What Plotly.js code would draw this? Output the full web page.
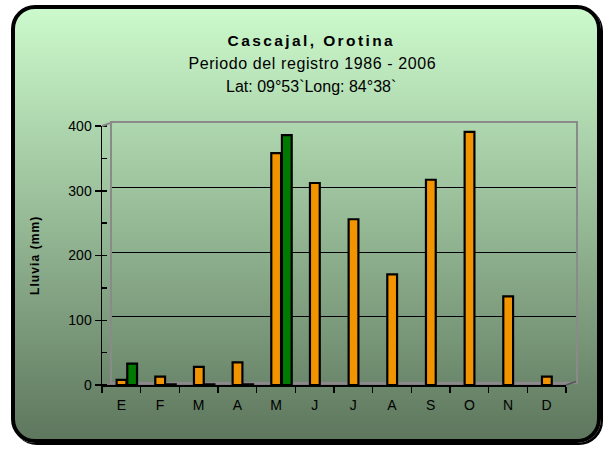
<!DOCTYPE html>
<html>
<head>
<meta charset="utf-8">
<script src="https://cdn.plot.ly/plotly-3.0.1.min.js"></script>
<style>
  html, body { margin: 0; padding: 0; background: #ffffff; }
  #frame {
    position: absolute; left: 11px; top: 5px; width: 590px; height: 438px;
    box-sizing: border-box; border: 4px solid #000; border-radius: 24px;
    background: linear-gradient(to bottom, #ccfacc 0%, #5e775e 100%);
    box-shadow: 2px 2px 0 #000;
  }
  #chart { position: absolute; left: 0; top: 0; width: 605px; height: 450px; }
  g.annotation[data-index="0"] text { letter-spacing: 2.4px; }
  g.annotation[data-index="1"] text { letter-spacing: 0.6px; }
  g.annotation[data-index="3"] text { letter-spacing: 1.1px; }
</style>
</head>
<body>
<div id="frame"></div>
<div id="chart"></div>
<script>
// ---- data ----
const months = ['E','F','M','A','M','J','J','A','S','O','N','D'];
const serieNaranja = [8, 13, 28, 35, 358, 312, 256, 171, 317, 391, 137, 13];
const serieVerde   = [33, 1, 1, 1, 386, null, null, null, null, null, null, null];
const yTicks = [0, 100, 200, 300, 400];

// ---- geometry helpers (pixels -> paper fractions) ----
const W = 605, H = 450;
const fx = p => p / W;
const fy = p => 1 - p / H;
const front = {x0: 102, x1: 566, yb: 385, yt: 126};
const depth = {dx: 10, dy: -3.5};
const back = {x0: front.x0 + depth.dx, x1: front.x1 + depth.dx, yb: front.yb + depth.dy, yt: front.yt + depth.dy};
const mid = {x0: front.x0 + 5.5, x1: front.x1 + 5.5};

const idx = months.map((_, i) => i);

const traces = [
  // back wall helper (draws wall gridlines)
  {type: 'scatter', x: [], y: [], xaxis: 'x', yaxis: 'y', hoverinfo: 'skip', showlegend: false},
  {type: 'bar', name: 'Serie 1', x: idx, y: serieNaranja, xaxis: 'x2', yaxis: 'y2',
   marker: {color: '#f29400', line: {color: '#000', width: 2.2}}, hoverinfo: 'y'},
  {type: 'bar', name: 'Serie 2', x: idx, y: serieVerde, xaxis: 'x2', yaxis: 'y2',
   marker: {color: '#007a00', line: {color: '#000', width: 2.2}}, hoverinfo: 'y'},
  // front x axis helper
  {type: 'scatter', x: [], y: [], xaxis: 'x3', yaxis: 'y2', hoverinfo: 'skip', showlegend: false}
];

const wallGray = '#8a8a8a';
const layout = {
  width: W, height: H,
  margin: {l: 0, r: 0, t: 0, b: 0},
  paper_bgcolor: 'rgba(0,0,0,0)',
  plot_bgcolor: 'rgba(0,0,0,0)',
  showlegend: false,
  barmode: 'group',
  bargap: 0.45,
  bargroupgap: 0.08,
  font: {family: 'Liberation Sans, Arial, sans-serif', color: '#000'},
  // back wall
  xaxis: {domain: [fx(back.x0), fx(back.x1)], anchor: 'y', range: [0, 1], showgrid: false, zeroline: false,
          showticklabels: false, ticks: '', showline: true, mirror: true, linecolor: wallGray, linewidth: 2, fixedrange: true},
  yaxis: {domain: [fy(back.yb), fy(back.yt)], anchor: 'x', range: [0, 400], tickvals: yTicks, showgrid: true,
          gridcolor: '#000', gridwidth: 1, zeroline: false, showticklabels: false, ticks: '',
          showline: true, mirror: true, linecolor: wallGray, linewidth: 2, fixedrange: true},
  // bars (mid depth)
  xaxis2: {domain: [fx(mid.x0), fx(mid.x1)], anchor: 'y2', range: [-0.5, 11.5], visible: false, fixedrange: true},
  // front value axis
  yaxis2: {domain: [fy(front.yb), fy(front.yt)], anchor: 'x3', range: [0, 400], tickvals: yTicks,
           showgrid: false, zeroline: false, showline: true, linecolor: '#000', linewidth: 1.5,
           ticks: 'outside', ticklen: 6, tickcolor: '#000', tickwidth: 1.5,
           minor: {dtick: 50, tick0: 0, ticks: 'inside', ticklen: 5, tickcolor: '#000', tickwidth: 1.5, showgrid: false},
           tickfont: {size: 14, color: '#000'}, ticklabelstandoff: 0, fixedrange: true},
  // front category axis
  xaxis3: {domain: [fx(front.x0), fx(front.x1)], anchor: 'y2', range: [-0.5, 11.5],
           tickmode: 'array', tickvals: idx, ticktext: months, ticks: '',
           minor: {tick0: -0.5, dtick: 1, ticks: 'outside', ticklen: 6, tickcolor: '#000', tickwidth: 1.5, showgrid: false},
           showgrid: false, zeroline: false, showline: true, linecolor: '#000', linewidth: 1.5,
           tickfont: {size: 14, color: '#000'}, ticklabelstandoff: 7, fixedrange: true},
  shapes: [
    {type: 'path', xref: 'paper', yref: 'paper', layer: 'below',
     path: `M ${fx(front.x0)} ${fy(front.yb)} L ${fx(front.x1)} ${fy(front.yb)} L ${fx(back.x1)} ${fy(back.yb)} L ${fx(back.x0)} ${fy(back.yb)} Z`,
     fillcolor: '#808080', line: {width: 0}},
    {type: 'line', xref: 'paper', yref: 'paper', x0: fx(front.x0), y0: fy(front.yt), x1: fx(back.x0), y1: fy(back.yt),
     line: {color: wallGray, width: 2}},
    {type: 'line', xref: 'paper', yref: 'paper', x0: fx(front.x1), y0: fy(front.yb), x1: fx(back.x1), y1: fy(back.yb),
     line: {color: '#555', width: 1.5}}
  ],
  annotations: [
    {text: '<b>Cascajal, Orotina</b>', xref: 'paper', yref: 'paper', x: fx(311), y: fy(40.5), xanchor: 'center', yanchor: 'middle',
     showarrow: false, font: {size: 15.5, color: '#000'}},
    {text: 'Periodo del registro 1986 - 2006', xref: 'paper', yref: 'paper', x: fx(312), y: fy(63.5), xanchor: 'center', yanchor: 'middle',
     showarrow: false, font: {size: 16, color: '#000'}},
    {text: 'Lat: 09°53`Long: 84°38`', xref: 'paper', yref: 'paper', x: fx(311), y: fy(86.5), xanchor: 'center', yanchor: 'middle',
     showarrow: false, font: {size: 16, color: '#000'}},
    {text: '<b>Lluvia (mm)</b>', xref: 'paper', yref: 'paper', x: fx(35), y: fy(256), xanchor: 'center', yanchor: 'middle',
     textangle: -90, showarrow: false, font: {size: 12, color: '#000'}}
  ]
};

Plotly.newPlot('chart', traces, layout, {displayModeBar: false, staticPlot: true});
</script>
</body>
</html>
